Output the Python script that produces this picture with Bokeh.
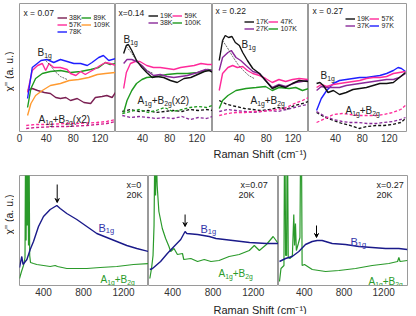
import math
from bokeh.plotting import figure
from bokeh.models import Label, Legend, LegendItem, FixedTicker, Arrow, VeeHead
from bokeh.layouts import row, column
from bokeh.embed import file_html
from bokeh.resources import INLINE

FONT = "Liberation Sans"

# ---------------- top row: low-energy spectra (arb. units) ----------------
# x = 0.07
A_X38 = [12, 19, 27, 37, 46, 54, 61, 69, 76, 86, 96, 106, 113, 123, 130, 138, 143]
A_Y38 = [41, 43, 41, 39, 38, 34, 33, 34, 31, 33, 29, 28, 34, 35, 36, 34, 39]
A_X57 = [12, 19, 27, 34, 39, 44, 51, 61, 71, 76, 84, 91, 98, 103, 111, 120, 128, 135, 143]
A_Y57 = [39, 61, 66, 68, 61, 68, 64, 64, 62, 58, 56, 60, 57, 59, 62, 66, 69, 68, 66]
A_X78 = [12, 19, 32, 41, 51, 61, 71, 81, 91, 101, 108, 118, 125, 133, 143]
A_Y78 = [33, 64, 71, 72, 69, 72, 70, 68, 68, 66, 69, 74, 76, 71, 73]
A_X89 = [12, 17, 24, 34, 46, 61, 76, 91, 106, 118, 128, 135, 143]
A_Y89 = [24, 43, 53, 58, 60, 61, 59, 60, 62, 64, 69, 67, 68]
A_X109 = [12, 17, 24, 34, 46, 61, 74, 88, 103, 116, 128, 143]
A_Y109 = [16, 28, 36, 41, 46, 48, 51, 52, 54, 57, 58, 59]
A_XFIT = [39, 46, 53, 61, 71]
A_YFIT = [71, 66, 60, 55, 52]
A_XD = [10, 25, 40, 55, 70, 85, 100, 115, 130, 143]
A_YD1 = [6, 7, 7, 7.5, 8, 8, 8.5, 9, 10, 12]
A_YD2 = [3, 4, 4.5, 5, 5, 5.5, 6, 7, 8, 10]

# x = 0.14
B_X19 = [12, 16, 19, 24, 31, 39, 46, 54, 61, 71, 81, 91, 101, 111, 121, 131, 138, 144]
B_Y19 = [78, 86, 87, 81, 71, 64, 59, 54, 55, 54, 51, 49, 53, 54, 57, 60, 61, 59]
B_X38 = [12, 17, 24, 31, 39, 46, 56, 66, 76, 86, 96, 106, 121, 133, 144]
B_Y38 = [68, 72, 72, 70, 66, 61, 56, 57, 55, 54, 55, 56, 59, 62, 61]
B_X59 = [12, 16, 22, 29, 36, 46, 56, 66, 76, 86, 96, 106, 116, 126, 136, 144]
B_Y59 = [43, 59, 68, 70, 70, 66, 64, 64, 63, 62, 64, 65, 66, 68, 67, 67]
B_X100 = [12, 17, 24, 31, 39, 46, 61, 76, 91, 106, 121, 136, 144]
B_Y100 = [19, 31, 41, 48, 52, 54, 55, 57, 58, 58, 59, 62, 61]
B_XFIT = [16, 22, 31, 39, 46, 56]
B_YFIT = [85, 80, 71, 65, 61, 58]
B_XD = [10, 22, 35, 48, 60, 72, 85, 98, 110, 122, 134, 143]
B_YD19 = [20, 22, 20, 21, 19, 20, 21, 20, 22, 21, 22, 21]
B_YD100 = [18, 20, 22, 19, 21, 24, 20, 22, 24, 25, 24, 26]
B_YD38 = [16, 14, 15, 14, 13, 14, 13, 15, 12, 14, 13, 15]

# x = 0.22
C_X17 = [10, 15, 19, 24, 29, 34, 40, 45, 52, 60, 70, 79, 89, 99, 109, 119, 129, 143]
C_Y17 = [71, 91, 96, 94, 95, 89, 86, 79, 71, 63, 58, 51, 43, 46, 44, 48, 51, 50]
C_X27 = [10, 15, 23, 28, 35, 42, 50, 60, 70, 79, 89, 99, 109, 124, 143]
C_Y27 = [61, 74, 79, 81, 74, 71, 66, 60, 58, 51, 44, 47, 45, 49, 51]
C_X47 = [10, 15, 23, 30, 37, 45, 52, 60, 70, 79, 89, 99, 109, 119, 129, 143]
C_Y47 = [41, 58, 64, 66, 64, 65, 61, 58, 56, 53, 49, 52, 50, 52, 53, 52]
C_X107 = [10, 15, 23, 35, 50, 65, 79, 89, 99, 114, 124, 134, 143]
C_Y107 = [23, 31, 36, 41, 43, 44, 45, 41, 44, 43, 44, 41, 43]
C_XFIT = [15, 22, 30, 38, 46, 54, 62]
C_YFIT = [91, 84, 75, 67, 61, 56, 53]
C_XD = [10, 22, 35, 48, 60, 72, 85, 98, 110, 122, 134, 143]
C_YD17 = [31, 27, 25, 23, 22, 21, 22, 24, 22, 26, 28, 30]
C_YD27 = [20, 22, 21, 20, 19, 20, 21, 20, 22, 24, 26, 27]
C_YD47 = [16, 18, 19, 19, 20, 20, 21, 22, 24, 28, 31, 34]

# x = 0.27
D_X19 = [12, 17, 22, 29, 37, 46, 56, 66, 76, 86, 96, 106, 116, 126, 135, 144]
D_Y19 = [48, 49, 46, 39, 41, 37, 39, 42, 43, 44, 46, 48, 48, 49, 54, 59]
D_X37 = [12, 19, 27, 37, 46, 56, 66, 76, 86, 96, 106, 116, 126, 135, 144]
D_Y37 = [41, 45, 44, 44, 44, 46, 47, 48, 49, 50, 51, 52, 52, 54, 58]
D_X57 = [12, 19, 27, 37, 46, 56, 66, 76, 86, 96, 106, 116, 126, 135, 144]
D_Y57 = [44, 47, 45, 47, 48, 49, 50, 51, 53, 54, 54, 55, 58, 59, 60]
D_X97 = [12, 19, 27, 37, 46, 56, 66, 76, 86, 96, 106, 116, 126, 133, 138, 144]
D_Y97 = [21, 33, 41, 48, 51, 52, 53, 54, 54, 55, 56, 58, 61, 64, 63, 60]
D_XD = [12, 25, 37, 50, 62, 75, 87, 100, 112, 125, 137, 144]
D_YD19 = [19, 14, 11, 8, 6, 3, 5, 6, 6, 7, 9, 13]
D_YD37 = [20, 15, 12, 10, 9, 9, 8, 8, 9, 10, 12, 14]
D_YD57 = [9, 13, 17, 18, 17, 16, 16, 16, 17, 19, 22, 26]

# ---------------- bottom row: 20K wide-range spectra ----------------
E_XB = [160, 183, 195, 234, 267, 300, 350, 400, 467, 533, 567, 633, 733, 833, 933, 1033, 1133, 1233, 1333, 1450]
E_YB = [18, 29, 21, 26, 36, 44, 59, 69, 76, 80, 77, 72, 66, 59, 52, 48, 44, 40, 37, 34]
E_XA = [160, 180, 200, 215, 220, 226, 232, 238, 244, 250, 256, 262, 270, 300, 333, 467, 517, 540, 633, 733, 833, 967, 1133, 1300, 1450]
E_YA = [7, 14, 20, 28, 130, 45, 130, 60, 130, 40, 130, 30, 23, 22, 21, 19, 20, 19, 17, 17, 17, 18, 19, 21, 22]

F_XB = [173, 200, 280, 347, 413, 480, 523, 540, 647, 763, 830, 997, 1163, 1330, 1447]
F_YB = [16, 17, 24, 32, 39, 46, 54, 52, 51, 49, 47, 45, 43, 42, 42]
F_XA = [173, 190, 205, 215, 222, 230, 238, 246, 263, 297, 330, 363, 380, 413, 447, 497, 510, 580, 647, 713, 780, 860, 960, 1060, 1160, 1210, 1260, 1330, 1397, 1447]
F_YA = [7, 17, 30, 60, 130, 90, 130, 100, 74, 57, 47, 39, 34, 37, 31, 32, 26, 27, 24, 26, 24, 25, 29, 31, 35, 40, 35, 41, 49, 42]

G_XB = [150, 211, 278, 345, 412, 480, 530, 580, 681, 815, 950, 1084, 1219, 1353, 1437]
G_YB = [24, 27, 29, 34, 41, 44, 45, 45, 42, 41, 39, 38, 37, 37, 36]
G_XA = [150, 165, 195, 200, 206, 212, 222, 226, 232, 238, 255, 280, 294, 302, 311, 320, 340, 356, 362, 372, 378, 402, 480, 614, 749, 916, 1084, 1252, 1340, 1353, 1365, 1437]
G_YA = [4, 17, 20, 130, 130, 30, 30, 130, 130, 28, 27, 30, 71, 40, 62, 35, 42, 48, 130, 130, 20, 21, 16, 14, 15, 17, 20, 22, 24, 28, 24, 25]

ARROW_X = [537, 523, 523]
ARROW_Y0 = [101, 71, 60]
ARROW_Y1 = [83, 59, 48]

TOP_XTICKS_FIRST = [0, 40, 80, 120]
TOP_XTICKS = [40, 80, 120]
BOT_XTICKS = [400, 800, 1200]

MAROON = "#7a1f52"
PINK = "#ff2a9a"
BLUE = "#1f1fff"
GREEN = "#1f9a1f"
ORANGE = "#ff9a30"
BLACK = "#111111"
PURPLE = "#8a2a9a"
DPINK = "#cc1a8a"
NAVY = "#1a1a8a"
BGREEN = "#2a9a2a"
BTXT = "#3333aa"

WID = {'A': .667, 'B': .667, '+': .584, '1': .556, '2': .556, 'g': .556, ' ': .278,
       '(': .333, ')': .333, 'x': .5}


def style(p, xticks):
    p.grid.visible = False
    p.outline_line_color = "#9a9a9a"
    p.background_fill_color = "white"
    p.border_fill_color = "white"
    p.xaxis.ticker = FixedTicker(ticks=xticks)
    ax = p.xaxis[0]
    ax.axis_line_color = None
    ax.major_tick_in = 0
    ax.major_tick_out = 0
    ax.minor_tick_line_color = None
    ax.major_tick_line_color = None
    ax.major_label_text_font_size = "10px"
    ax.major_label_text_font = FONT
    ax.major_label_text_color = "#333333"
    ax.major_label_standoff = 2


def top_panel(fw, xmax, xticks, left=0):
    p = figure(frame_width=fw, frame_height=128, x_range=(0, xmax), y_range=(0, 128),
               output_backend="svg", toolbar_location=None, y_axis_location=None,
               min_border_left=left, min_border_right=0, min_border_top=3, min_border_bottom=0)
    style(p, xticks)
    return p


def bot_panel(fw, xmin, left=0):
    p = figure(frame_width=fw, frame_height=110, x_range=(xmin, 1450), y_range=(0, 110),
               output_backend="svg", toolbar_location=None, y_axis_location=None,
               min_border_left=left, min_border_right=0, min_border_top=13, min_border_bottom=0)
    style(p, BOT_XTICKS)
    return p


def text(p, x, y, s, size, color="#222222", align="left", baseline="middle"):
    p.add_layout(Label(x=x, y=y, x_units="screen", y_units="screen", text=s,
                       text_font=FONT, text_font_size=f"{size}px", text_color=color,
                       text_align=align, text_baseline=baseline))


def rich(p, x, y, parts, size, color="#222222"):
    cx = x
    for s, sub in parts:
        fs = size * 0.68 if sub else size
        dy = -size * 0.28 if sub else 0
        text(p, cx, y + dy, s, round(fs, 1), color, baseline="alphabetic")
        cx += sum(WID.get(c, .55) for c in s) * fs


def legend(p, items, loc, nrows):
    lg = Legend(items=[LegendItem(label=l, renderers=[r]) for l, r in items],
                location=loc, orientation="vertical", nrows=nrows,
                label_text_font=FONT, label_text_font_size="7px", label_text_color="#222222",
                glyph_width=10, glyph_height=7, label_height=7, label_width=12,
                label_standoff=2, spacing=0, padding=0, margin=0, border_line_color=None,
                background_fill_alpha=0)
    p.add_layout(lg)


def solid(p, x, y, c):
    return p.line(x, y, line_color=c, line_width=1.4)


def dashed(p, x, y, c, w=1.3):
    p.line(x, y, line_color=c, line_width=w, line_dash="3 2")


def fit(p, x, y):
    p.line(x, y, line_color="#444444", line_width=0.8, line_dash="2 1")


B1G = [("B", False), ("1g", True)]
A1G = [("A", False), ("1g", True), ("+B", False), ("2g", True)]
A1G2 = A1G + [(" (x2)", False)]

# ---- panel x=0.07 ----
p1 = top_panel(96, 143, TOP_XTICKS_FIRST, left=5)
dashed(p1, A_XD, A_YD1, PINK)
dashed(p1, A_XD, A_YD2, DPINK)
r38 = solid(p1, A_X38, A_Y38, MAROON)
r89 = solid(p1, A_X89, A_Y89, GREEN)
r109 = solid(p1, A_X109, A_Y109, ORANGE)
r57 = solid(p1, A_X57, A_Y57, PINK)
r78 = solid(p1, A_X78, A_Y78, BLUE)
fit(p1, A_XFIT, A_YFIT)
text(p1, 4, 119, "x = 0.07", 8.5)
legend(p1, [("38K", r38), ("57K", r57), ("78K", r78), ("89K", r89), ("109K", r109)], (38, 96), 3)
rich(p1, 18, 79, B1G, 10)
rich(p1, 19, 12, A1G2, 10)

# ---- panel x=0.14 ----
p2 = top_panel(97, 143, TOP_XTICKS)
dashed(p2, B_XD, B_YD19, BLACK)
dashed(p2, B_XD, B_YD100, GREEN)
dashed(p2, B_XD, B_YD38, PURPLE)
q100 = solid(p2, B_X100, B_Y100, GREEN)
q59 = solid(p2, B_X59, B_Y59, PINK)
q38 = solid(p2, B_X38, B_Y38, PURPLE)
q19 = solid(p2, B_X19, B_Y19, BLACK)
fit(p2, B_XFIT, B_YFIT)
text(p2, 3, 119, "x=0.14", 8.5)
legend(p2, [("19K", q19), ("38K", q38), ("59K", q59), ("100K", q100)], (33, 105), 2)
rich(p2, 8, 92, B1G, 10)
rich(p2, 22, 31, A1G2, 10)

# ---- panel x=0.22 ----
p3 = top_panel(96, 143, TOP_XTICKS)
dashed(p3, C_XD, C_YD17, BLACK)
dashed(p3, C_XD, C_YD27, PURPLE)
dashed(p3, C_XD, C_YD47, PINK)
s107 = solid(p3, C_X107, C_Y107, GREEN)
s47 = solid(p3, C_X47, C_Y47, PINK)
s27 = solid(p3, C_X27, C_Y27, PURPLE)
s17 = solid(p3, C_X17, C_Y17, BLACK)
fit(p3, C_XFIT, C_YFIT)
text(p3, 3, 121, "x = 0.22", 8.5)
legend(p3, [("17K", s17), ("27K", s27), ("47K", s47), ("107K", s107)], (32, 99), 2)
rich(p3, 29, 87, B1G, 10)
rich(p3, 38, 31, A1G, 10)

# ---- panel x=0.27 ----
p4 = top_panel(99, 147, TOP_XTICKS)
dashed(p4, D_XD, D_YD19, BLACK)
dashed(p4, D_XD, D_YD37, PURPLE)
dashed(p4, D_XD, D_YD57, PINK)
t97 = solid(p4, D_X97, D_Y97, BLUE)
t57 = solid(p4, D_X57, D_Y57, PINK)
t37 = solid(p4, D_X37, D_Y37, PURPLE)
t19 = solid(p4, D_X19, D_Y19, BLACK)
text(p4, 4, 121, "x = 0.27", 8.5)
legend(p4, [("19K", t19), ("37K", t37), ("57K", t57), ("97K", t97)], (37, 102), 2)
rich(p4, 12, 56, B1G, 10)
rich(p4, 37, 21, A1G, 10)

# ---- bottom panels ----
g1 = bot_panel(129, 160, left=5)
g2 = bot_panel(130, 160)
g3 = bot_panel(130, 140)
for g, xa, ya, xb, yb in [(g1, E_XA, E_YA, E_XB, E_YB), (g2, F_XA, F_YA, F_XB, F_YB),
                          (g3, G_XA, G_YA, G_XB, G_YB)]:
    g.line(xa, ya, line_color=BGREEN, line_width=1.2)
    g.line(xb, yb, line_color=NAVY, line_width=1.4)
for g, ax, a0, a1 in zip([g1, g2, g3], ARROW_X, ARROW_Y0, ARROW_Y1):
    g.add_layout(Arrow(end=VeeHead(size=4, line_color="black", line_width=1),
                       x_start=ax, y_start=a0, x_end=ax, y_end=a1,
                       line_color="black", line_width=1))

text(g1, 107, 101, "x=0", 9)
text(g1, 107, 91, "20K", 9)
rich(g1, 79, 58, B1G, 11, BTXT)
rich(g1, 81, 6, A1G, 10, BGREEN)

text(g2, 92, 101, "x=0.07", 9)
text(g2, 90, 91, "20K", 9)
rich(g2, 52, 57, B1G, 11, BTXT)
rich(g2, 70, 12, A1G, 10, BGREEN)

text(g3, 98, 101, "x=0.27", 9)
text(g3, 98, 91, "20K", 9)
rich(g3, 72, 44, B1G, 11, BTXT)
rich(g3, 90, 4, A1G, 10, BGREEN)


# ---- axis titles ----
def blank(fw, fh, top):
    f = figure(frame_width=fw, frame_height=fh, x_range=(0, 1), y_range=(0, 1),
               x_axis_type=None, y_axis_type=None, output_backend="svg",
               toolbar_location=None, min_border_left=0, min_border_right=0,
               min_border_top=top, min_border_bottom=0)
    f.outline_line_color = None
    f.grid.visible = False
    return f


yl1 = blank(14, 128, 3)
yl1.add_layout(Label(x=8, y=60, x_units="screen", y_units="screen", text="χ'' (a. u.)",
                     angle=math.pi / 2, text_align="center", text_baseline="middle",
                     text_font=FONT, text_font_size="10.5px", text_color="#222222"))
yl2 = blank(14, 110, 13)
yl2.add_layout(Label(x=8, y=71, x_units="screen", y_units="screen", text="χ'' (a. u.)",
                     angle=math.pi / 2, text_align="center", text_baseline="middle",
                     text_font=FONT, text_font_size="10.5px", text_color="#222222"))

xt1 = blank(407, 18, 0)
text(xt1, 213, 9, "Raman Shift (cm⁻¹)", 11)
xt2 = blank(408, 16, 0)
text(xt2, 213, 5, "Raman Shift (cm⁻¹)", 11)

layout = column(row(yl1, p1, p2, p3, p4, spacing=0), xt1,
                row(yl2, g1, g2, g3, spacing=0), xt2, spacing=0)

open("out.html", "w").write(file_html(layout, INLINE))
